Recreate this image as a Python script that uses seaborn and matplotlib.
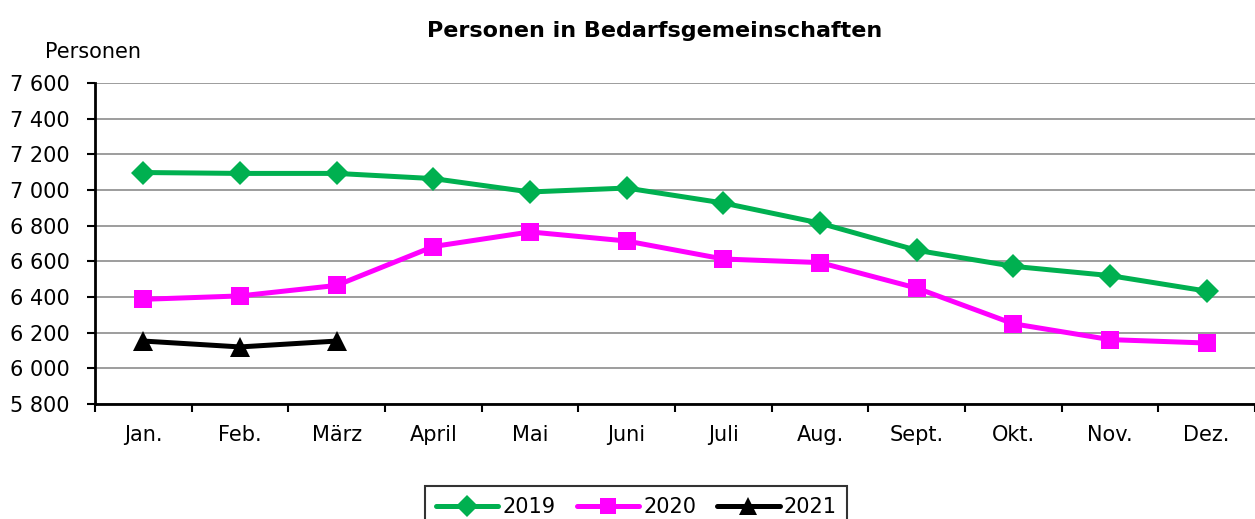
import numpy as np
import pandas as pd
import matplotlib
matplotlib.use("Agg")
import matplotlib.pyplot as plt
from matplotlib.lines import Line2D
import seaborn as sns

# ── Data ────────────────────────────────────────────────────────────────
months = ["Jan.", "Feb.", "März", "April", "Mai", "Juni",
          "Juli", "Aug.", "Sept.", "Okt.", "Nov.", "Dez."]
y2019 = [7098, 7093, 7093, 7064, 6989, 7011, 6927, 6814, 6662, 6572, 6520, 6433]
y2020 = [6387, 6406, 6465, 6683, 6765, 6714, 6613, 6593, 6450, 6250, 6161, 6142]
y2021 = [6153, 6120, 6153]
yticks = [5800, 6000, 6200, 6400, 6600, 6800, 7000, 7200, 7400, 7600]

rows = []
for year, vals in [("2019", y2019), ("2020", y2020), ("2021", y2021)]:
    for i, v in enumerate(vals):
        rows.append({"pos": i, "Personen": v, "Jahr": year})
df = pd.DataFrame(rows)

sns.set_theme(style="white")
plt.rcParams["font.family"] = ["DejaVu Sans"]
plt.rcParams["text.color"] = "black"
plt.rcParams["xtick.color"] = "black"
plt.rcParams["ytick.color"] = "black"
plt.rcParams["xtick.labelcolor"] = "black"
plt.rcParams["ytick.labelcolor"] = "black"

fig = plt.figure(figsize=(12.55, 5.19), dpi=100)
ax = fig.add_axes([95 / 1255, 1 - 404 / 519, 1 - 95 / 1255, (404 - 83) / 519])

palette = {"2019": "#00B050", "2020": "#FF00FF", "2021": "#000000"}
markers = {"2019": "D", "2020": "s", "2021": "^"}
sns.lineplot(data=df, x="pos", y="Personen", hue="Jahr", style="Jahr",
             palette=palette, markers=markers, dashes=False, sort=False,
             linewidth=3.6, markersize=13, markeredgewidth=0, ax=ax,
             legend=False)

# triangle a bit bigger, diamond a bit smaller
for line in ax.get_lines():
    if line.get_marker() == "^":
        line.set_markersize(15)
    elif line.get_marker() == "D":
        line.set_markersize(12)

ax.set_xlim(-0.5, 11.5)
ax.set_ylim(5800, 7600)
ax.set_yticks(yticks)
ax.set_yticklabels([f"{v:,}".replace(",", " ") for v in yticks], fontsize=15)
ax.yaxis.grid(True, color="#8c8c8c", linewidth=1.2)
ax.set_axisbelow(True)

ax.set_xticks(np.arange(-0.5, 12, 1))
ax.set_xticklabels([])
ax.set_xticks(np.arange(12), minor=True)
ax.set_xticklabels(months, minor=True, fontsize=15)
ax.tick_params(axis="x", which="major", direction="out", length=6, width=1.5,
               color="black", bottom=True)
ax.tick_params(axis="x", which="minor", length=0, pad=15)
ax.tick_params(axis="y", direction="out", length=6, width=1.5,
               color="black", left=True, pad=12)

for s in ["top", "right"]:
    ax.spines[s].set_visible(False)
for s in ["left", "bottom"]:
    ax.spines[s].set_color("black")
    ax.spines[s].set_linewidth(2)
ax.set_xlabel("")
ax.set_ylabel("")

fig.text(0.522, 0.94, "Personen in Bedarfsgemeinschaften", ha="center",
         va="center", fontsize=16, fontweight="bold")
fig.text(0.036, 0.90, "Personen", ha="left", va="center", fontsize=15)

handles = [Line2D([], [], color=palette[k], marker=markers[k], linewidth=3.6,
                  markersize=11 if k != "2021" else 13, markeredgewidth=0)
           for k in ["2019", "2020", "2021"]]
leg = fig.legend(handles, ["2019", "2020", "2021"], loc="upper center",
                 bbox_to_anchor=(0.507, 1 - 476 / 519), ncol=3, fontsize=15,
                 frameon=True, fancybox=False, edgecolor="black",
                 handlelength=3, columnspacing=1.0, handletextpad=0.2,
                 borderpad=0.5)
leg.get_frame().set_linewidth(1.5)

fig.savefig("out.png", dpi=100)
